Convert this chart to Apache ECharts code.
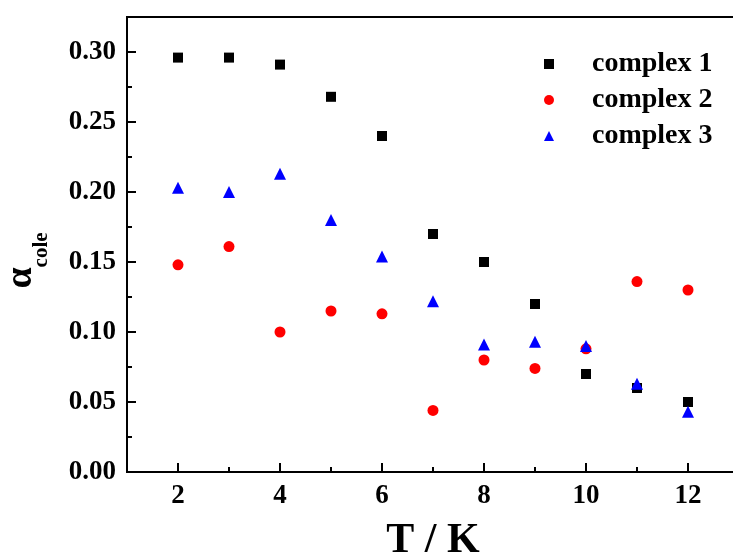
<!DOCTYPE html>
<html>
<head>
<meta charset="utf-8">
<script src="https://cdn.jsdelivr.net/npm/echarts@6/dist/echarts.min.js"></script>
<style>
  html, body { margin: 0; padding: 0; background: #fff; }
  #chart { width: 733px; height: 557px; }
</style>
</head>
<body>
<div id="chart"></div>
<script>
// temperatures (K)
var temps = [2, 3, 4, 5, 6, 7, 8, 9, 10, 11, 12];
var majorTicks = [2, 4, 6, 8, 10, 12];
var minorTicks = [3, 5, 7, 9, 11];
var seriesNames = ['complex 1', 'complex 2', 'complex 3'];
var complex1 = [0.296, 0.296, 0.291, 0.268, 0.240, 0.170, 0.150, 0.120, 0.070, 0.060, 0.050];
var complex2 = [0.148, 0.161, 0.100, 0.115, 0.113, 0.044, 0.080, 0.074, 0.088, 0.136, 0.130];
var complex3 = [0.203, 0.200, 0.213, 0.180, 0.154, 0.122, 0.091, 0.093, 0.090, 0.063, 0.043];

var font = '"Liberation Serif", "Times New Roman", serif';

function pairs(ys){
  return temps.map(function(t, i){ return [t, ys[i]]; });
}

var chart = echarts.init(document.getElementById('chart'));
chart.setOption({
  animation: false,
  backgroundColor: '#fff',
  grid: {
    left: 127, top: 17, bottom: 85, right: -6,
    outerBoundsMode: 'none',
    containLabel: false,
    show: true, borderColor: '#000', borderWidth: 2
  },
  legend: {
    orient: 'vertical',
    left: 539, top: 45,
    itemWidth: 10, itemHeight: 10,
    itemGap: 8,
    textStyle: { fontFamily: font, fontWeight: 'bold', fontSize: 28, color: '#000', padding: [0, 0, 0, 33] },
    data: seriesNames
  },
  xAxis: [{
    type: 'value',
    min: 1, max: 13, interval: 1,
    name: 'T / K',
    nameLocation: 'middle',
    nameGap: 48,
    nameTextStyle: { fontFamily: font, fontWeight: 'bold', fontSize: 42, color: '#000' },
    axisLine: { show: true, onZero: false, lineStyle: { color: '#000', width: 2 } },
    axisTick: { inside: true, length: 9, customValues: majorTicks, lineStyle: { color: '#000', width: 2 } },
    splitLine: { show: false },
    axisLabel: {
      customValues: majorTicks,
      fontFamily: font, fontWeight: 'bold', fontSize: 27, color: '#000', margin: 11
    }
  }, {
    type: 'value',
    position: 'bottom',
    min: 1, max: 13, interval: 1,
    axisLine: { show: false },
    axisTick: { inside: true, length: 5, customValues: minorTicks, lineStyle: { color: '#000', width: 2 } },
    axisLabel: { show: false },
    splitLine: { show: false }
  }],
  yAxis: {
    type: 'value',
    min: 0, max: 0.325, interval: 0.05,
    name: '{a|α}{s|cole}',
    nameLocation: 'middle',
    nameRotate: 90,
    nameGap: 75,
    nameTextStyle: {
      rich: {
        a: { fontFamily: font, fontWeight: 'bold', fontSize: 38, color: '#000' },
        s: { fontFamily: font, fontWeight: 'bold', fontSize: 21, color: '#000', padding: [40, 32, 0, 0] }
      }
    },
    axisLine: { show: true, lineStyle: { color: '#000', width: 2 } },
    axisTick: { inside: true, length: 9, lineStyle: { color: '#000', width: 2 } },
    minorTick: { show: true, splitNumber: 2, length: 5, lineStyle: { color: '#000', width: 2 } },
    splitLine: { show: false },
    axisLabel: {
      fontFamily: font, fontWeight: 'bold', fontSize: 27, color: '#000', margin: 11,
      formatter: function(v){ return v > 0.31 ? '' : v.toFixed(2); }
    }
  },
  series: [
    { name: seriesNames[0], type: 'scatter', symbol: 'rect', symbolSize: 10,
      itemStyle: { color: '#000', opacity: 1 }, data: pairs(complex1) },
    { name: seriesNames[1], type: 'scatter', symbol: 'circle', symbolSize: 11,
      itemStyle: { color: '#ff0000', opacity: 1 }, data: pairs(complex2) },
    { name: seriesNames[2], type: 'scatter', symbol: 'triangle', symbolSize: 12,
      itemStyle: { color: '#0000ff', opacity: 1 }, data: pairs(complex3) }
  ]
});
</script>
</body>
</html>
